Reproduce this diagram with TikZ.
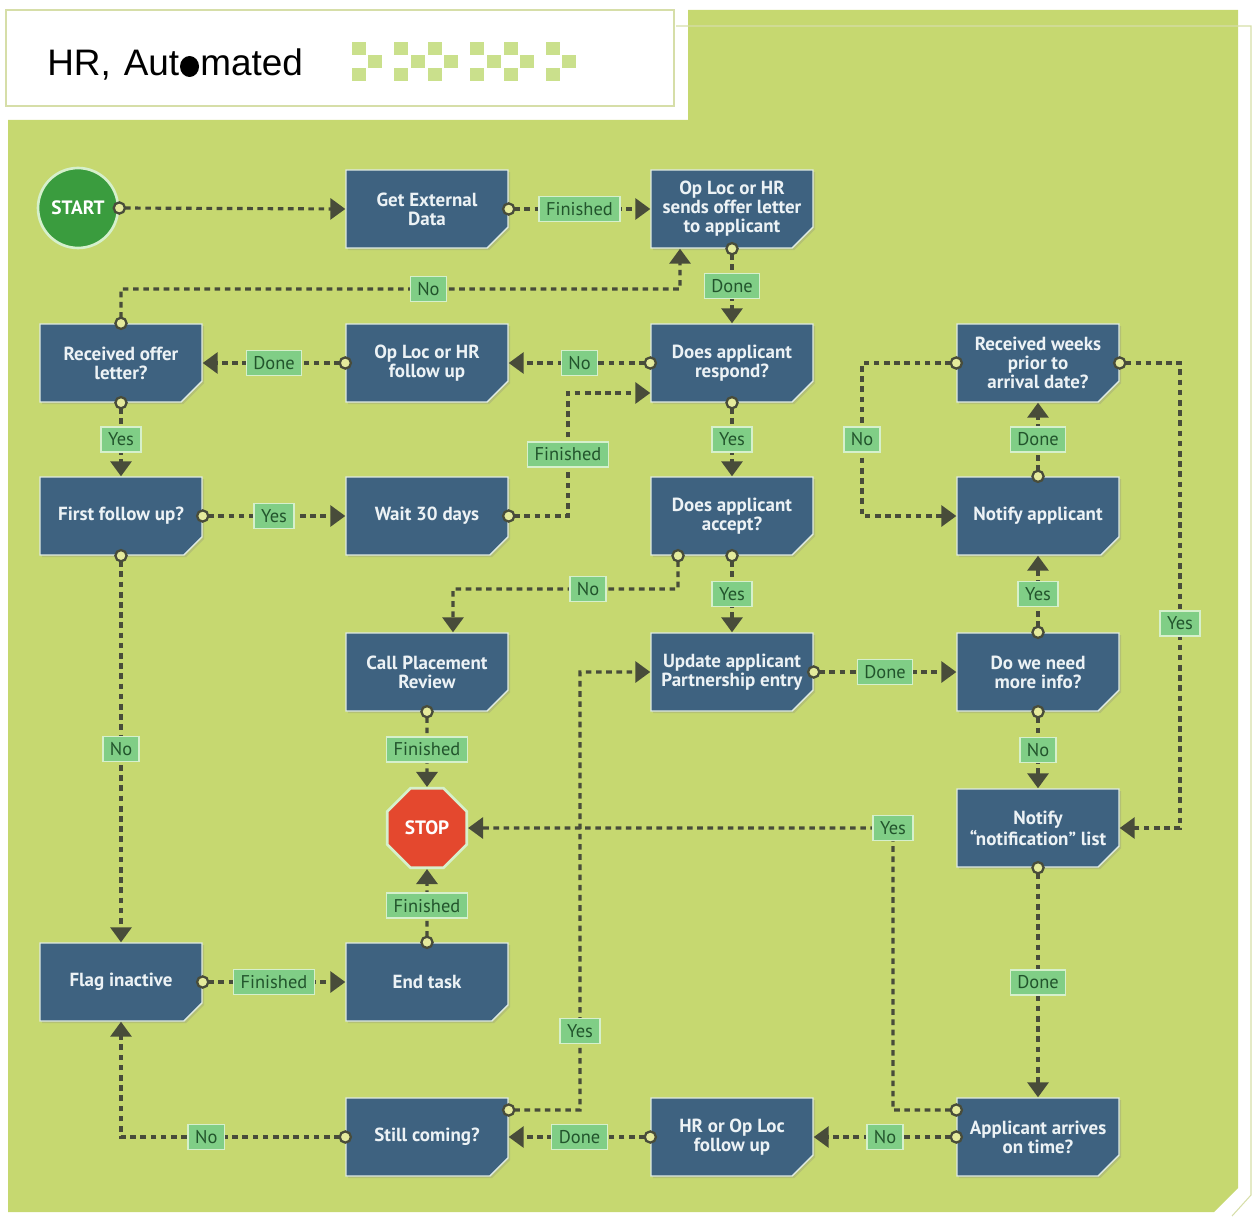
\documentclass[tikz,border=0pt]{standalone}
\usepackage{fontspec}
\setmainfont{PT Sans}
\newfontfamily\titlefont{Liberation Sans}
\usetikzlibrary{arrows.meta,positioning,calc,shapes.misc,shapes.geometric,shadows}
\definecolor{panelgreen}{RGB}{198,216,112}
\definecolor{framecol}{RGB}{214,222,168}
\definecolor{checkgreen}{RGB}{202,224,140}
\definecolor{boxblue}{RGB}{62,98,128}
\definecolor{boxedge}{RGB}{222,234,226}
\definecolor{boxtext}{RGB}{236,242,245}
\definecolor{tagfill}{RGB}{128,206,134}
\definecolor{tagedge}{RGB}{214,240,204}
\definecolor{tagtext}{RGB}{34,84,44}
\definecolor{linecol}{RGB}{72,76,58}
\definecolor{dotfill}{RGB}{228,234,156}
\definecolor{startgreen}{RGB}{58,156,62}
\definecolor{stopred}{RGB}{228,72,46}

\tikzset{
  stepbox/.style={chamfered rectangle, chamfered rectangle corners=south east,
    chamfered rectangle xsep=0.3cm, fill=boxblue, draw=boxedge, line width=0.8pt,
    minimum width=3.24cm, minimum height=1.56cm, inner xsep=-0.25cm, inner ysep=2pt,
    align=center, text=boxtext, font=\bfseries\fontsize{10.8}{10.8}\selectfont,
    drop shadow={shadow xshift=1.2pt, shadow yshift=-1.2pt, opacity=0.25}},
  tag/.style={fill=tagfill, draw=tagedge, solid, line width=0.8pt, text=tagtext,
    font=\fontsize{10.5}{12}\selectfont, inner xsep=4pt, inner ysep=2pt,
    minimum height=0.5cm},
  flow/.style={draw=linecol, line width=1.8pt, dash pattern=on 3.2pt off 2.6pt,
    {Circle[open, fill=dotfill, length=0.27cm, line width=1.3pt]}-{Triangle[width=0.42cm, length=0.3cm]},
    shorten <=-0.135cm},
  titletext/.style={font=\titlefont\fontsize{21}{25}\selectfont, inner sep=0pt}
}

\begin{document}
\begin{tikzpicture}[x=0.02cm, y=-0.02cm]
  \useasboundingbox (0,0) rectangle (1256,1216);

  % panel and header
  \fill[panelgreen] (8,120) -- (688,120) -- (688,10) -- (1238,10) -- (1238,1188)
    -- (1214,1212) -- (8,1212) -- cycle;
  \draw[framecol, line width=0.6pt] (676,26) -- (1251,26) -- (1251,1195) -- (1232,1216);
  \draw[framecol, fill=white, line width=0.8pt] (6,10) rectangle (674,106);
  \node[titletext, anchor=base west] (ttlA) at (47,76) {HR,\hspace{0.35em}Aut};
  \fill ([xshift=0.2cm, yshift=0.19cm]ttlA.base east) ellipse (0.19cm and 0.21cm);
  \node[titletext, anchor=base west] (ttlB) at ([xshift=0.41cm]ttlA.base east) {mated};
  \foreach \cx/\cy in {352/42,352/68,368/55,394/42,394/68,411/55,428/42,428/68,444/55,
                       470/42,470/68,487/55,504/42,504/68,520/55,546/42,546/68,562/55}
    \fill[checkgreen] (\cx,\cy) rectangle ++(14,13);

  % steps
  \node[circle, fill=startgreen, draw=tagedge, line width=1.5pt, minimum size=1.6cm,
    text=white, font=\bfseries\fontsize{11}{12}\selectfont] (start) at (78,208) {START};
  \node[stepbox] (getdata)  at (427,209)  {Get External\\Data};
  \node[stepbox] (sends)    at (732,209)  {Op Loc or HR\\sends offer letter\\to applicant};
  \node[stepbox] (recv)     at (121,363)  {Received offer\\letter?};
  \node[stepbox] (follow)   at (427,363)  {Op Loc or HR\\follow up};
  \node[stepbox] (respond)  at (732,363)  {Does applicant\\respond?};
  \node[stepbox] (weeks)    at (1038,363) {Received weeks\\prior to\\arrival date?};
  \node[stepbox] (first)    at (121,516)  {First follow up?};
  \node[stepbox] (wait)     at (427,516)  {Wait 30 days};
  \node[stepbox] (accept)   at (732,516)  {Does applicant\\accept?};
  \node[stepbox] (notify)   at (1038,516) {Notify applicant};
  \node[stepbox] (review)   at (427,672)  {Call Placement\\Review};
  \node[stepbox] (update)   at (732,672)  {Update applicant\\Partnership entry};
  \node[stepbox] (more)     at (1038,672) {Do we need\\more info?};
  \node[regular polygon, regular polygon sides=8, fill=stopred, draw=tagedge,
    line width=1.5pt, minimum size=1.69cm, text=white,
    font=\bfseries\fontsize{11}{12}\selectfont] (stop) at (427,828) {STOP};
  \node[stepbox] (notelist) at (1038,828) {Notify\\“notification” list};
  \node[stepbox] (flag)     at (121,982)  {Flag inactive};
  \node[stepbox] (endtask)  at (427,982)  {End task};
  \node[stepbox] (still)    at (427,1137) {Still coming?};
  \node[stepbox] (hrfollow) at (732,1137) {HR or Op Loc\\follow up};
  \node[stepbox] (arrives)  at (1038,1137) {Applicant arrives\\on time?};

  % connectors
  \draw[flow] (start.east) -- (getdata.west);
  \draw[flow] (getdata.east) -- node[tag] (t1) {Finished} (sends.west);
  \draw[flow] (sends.south) -- node[tag] (t2) {Done} (respond.north);
  \draw[flow] (respond.west) -- node[tag] (t3) {No} (follow.east);
  \draw[flow] (follow.west) -- node[tag] (t4) {Done} (recv.east);
  \draw[flow] (recv.north) |- node[tag, pos=0.775] (t5) {No} (680,289)
    -- ([xshift=-1.04cm]sends.south);
  \draw[flow] (recv.south) -- node[tag] (t6) {Yes} (first.north);
  \draw[flow] (first.east) -- node[tag] (t7) {Yes} (wait.west);
  \draw[flow] (wait.east) -- (568,516) |- node[tag, pos=0.25] (t8) {Finished}
    ([yshift=-0.6cm]respond.west);
  \draw[flow] (respond.south) -- node[tag] (t9) {Yes} (accept.north);
  \draw[flow] ([xshift=-1.08cm]accept.south) |- node[tag, pos=0.7] (t10) {No} (453,589)
    -- ([xshift=0.52cm]review.north);
  \draw[flow] (accept.south) -- node[tag] (t11) {Yes} (update.north);
  \draw[flow] (first.south) -- node[tag] (t12) {No} (flag.north);
  \draw[flow] (review.south) -- node[tag] (t13) {Finished} (stop.north);
  \draw[flow] (endtask.north) -- node[tag] (t14) {Finished} (stop.south);
  \draw[flow] (flag.east) -- node[tag] (t15) {Finished} (endtask.west);
  \draw[flow] (update.east) -- node[tag] (t16) {Done} (more.west);
  \draw[flow] (more.north) -- node[tag] (t17) {Yes} (notify.south);
  \draw[flow] (notify.north) -- node[tag] (t18) {Done} (weeks.south);
  \draw[flow] (weeks.west) -| node[tag, pos=0.75] (t19) {No} (862,516) -- (notify.west);
  \draw[flow] (weeks.east) -| node[tag, pos=0.78] (t20) {Yes} (1180,828) -- (notelist.east);
  \draw[flow] (more.south) -- node[tag] (t21) {No} (notelist.north);
  \draw[flow] (notelist.south) -- node[tag] (t22) {Done} (arrives.north);
  \draw[flow] ([yshift=0.54cm]arrives.west) -| (893,828) node[tag] (t23) {Yes} -- (stop.east);
  \draw[flow] (arrives.west) -- node[tag] (t24) {No} (hrfollow.east);
  \draw[flow] (hrfollow.west) -- node[tag] (t25) {Done} (still.east);
  \draw[flow] ([yshift=0.54cm]still.east) -- (580,1110) |- node[tag, pos=0.09] (t26) {Yes}
    (update.west);
  \draw[flow] (still.west) -| node[tag, pos=0.31] (t27) {No} (flag.south);
\end{tikzpicture}
\end{document}
